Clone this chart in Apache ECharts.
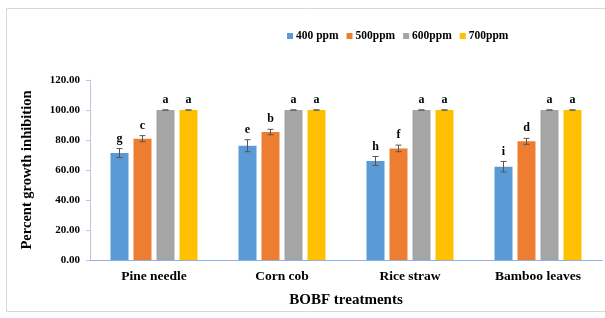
<!DOCTYPE html>
<html><head><meta charset="utf-8">
<script src="https://cdn.jsdelivr.net/npm/echarts@6/dist/echarts.min.js"></script>
<style>html,body{margin:0;padding:0;background:#fff}#c{width:605px;height:318px}</style>
</head><body><div id="c"></div>
<script>
var categories = ['Pine needle', 'Corn cob', 'Rice straw', 'Bamboo leaves'];
var seriesNames = ['400 ppm', '500ppm', '600ppm', '700ppm'];
var v400 = [71.3, 76.2, 66.0, 62.2];
var v500 = [80.9, 85.3, 74.4, 79.1];
var v600 = [100, 100, 100, 100];
var v700 = [100, 100, 100, 100];
var e400 = [3.0, 4.0, 3.0, 3.5];
var e500 = [2.0, 1.8, 2.2, 2.0];
var e600 = [0, 0, 0, 0];
var e700 = [0, 0, 0, 0];
var l400 = ['g', 'e', 'h', 'i'];
var l500 = ['c', 'b', 'f', 'd'];
var l600 = ['a', 'a', 'a', 'a'];
var l700 = ['a', 'a', 'a', 'a'];
var yTicks = [0, 20, 40, 60, 80, 100, 120];

var values = [v400, v500, v600, v700];
var errs = [e400, e500, e600, e700];
var letters = [l400, l500, l600, l700];
var colors = ['#5B9BD5', '#ED7D31', '#A5A5A5', '#FFC000'];
var BW = 18, GAP = 5;
var font = '"Liberation Serif","Times New Roman",serif';

var series = [];
for (var s = 0; s < 4; s++) {
  series.push({
    name: seriesNames[s], type: 'bar', data: values[s], barWidth: BW, barGap: (GAP / BW * 100) + '%',
    itemStyle: { color: colors[s] }
  });
}
for (var s2 = 0; s2 < 4; s2++) {
  (function (s) {
    var d = values[s].map(function (v, i) { return [i, v, errs[s][i], letters[s][i]]; });
    series.push({
      type: 'custom', silent: true, z: 5,
      encode: { x: 0, y: 1 },
      data: d,
      renderItem: function (params, api) {
        var ci = api.value(0), v = api.value(1), e = api.value(2);
        var letter = d[params.dataIndex][3];
        var off = (s - 1.5) * (BW + GAP);
        var c = api.coord([ci, v]);
        var top = api.coord([ci, v + e]);
        var bot = api.coord([ci, v - e]);
        var x = c[0] + off;
        var st = { stroke: '#555', lineWidth: 1 };
        return {
          type: 'group', children: [
            { type: 'line', shape: { x1: x, y1: top[1], x2: x, y2: bot[1] }, style: st },
            { type: 'line', shape: { x1: x - 3, y1: top[1], x2: x + 3, y2: top[1] }, style: st },
            { type: 'line', shape: { x1: x - 3, y1: bot[1], x2: x + 3, y2: bot[1] }, style: st },
            { type: 'text', x: x, y: top[1] - 4, style: { text: letter, fill: '#000', font: 'bold 12px ' + font, align: 'center', verticalAlign: 'bottom' } }
          ]
        };
      }
    });
  })(s2);
}

var chart = echarts.init(document.getElementById('c'));
chart.setOption({
  animation: false,
  graphic: [{ type: 'rect', shape: { x: 6.5, y: 8.5, width: 605, height: 303 }, style: { fill: 'none', stroke: '#d9d9d9', lineWidth: 1 }, z: -1 }],
  legend: {
    data: seriesNames, left: 282, top: 25, itemWidth: 6, itemHeight: 6, itemGap: 8, icon: 'rect',
    textStyle: { fontFamily: font, fontWeight: 'bold', fontSize: 11.5, color: '#000', padding: [0, 0, 0, -2] }
  },
  grid: { left: 90, right: 3, top: 80, bottom: 58, containLabel: false },
  xAxis: {
    type: 'category', data: categories,
    name: 'BOBF treatments', nameLocation: 'middle', nameGap: 33,
    nameTextStyle: { fontFamily: font, fontWeight: 'bold', fontSize: 15, color: '#000' },
    axisLine: { lineStyle: { color: '#8EB4E3', width: 1 } },
    axisTick: { show: false },
    axisLabel: { fontFamily: font, fontWeight: 'bold', fontSize: 13.5, color: '#000', margin: 10 }
  },
  yAxis: {
    type: 'value', min: 0, max: 120, interval: 20,
    name: 'Percent growth inhibition', nameLocation: 'middle', nameGap: 55, nameRotate: 90,
    nameTextStyle: { fontFamily: font, fontWeight: 'bold', fontSize: 14.5, color: '#000' },
    axisLine: { show: true, lineStyle: { color: '#b8c7d9' } },
    axisTick: { show: true, length: 4, lineStyle: { color: '#b8c7d9' } },
    splitLine: { show: false },
    axisLabel: { fontFamily: font, fontWeight: 'bold', fontSize: 11, color: '#000', margin: 10,
      formatter: function (v) { return v.toFixed(2); } }
  },
  series: series
});
</script></body></html>
